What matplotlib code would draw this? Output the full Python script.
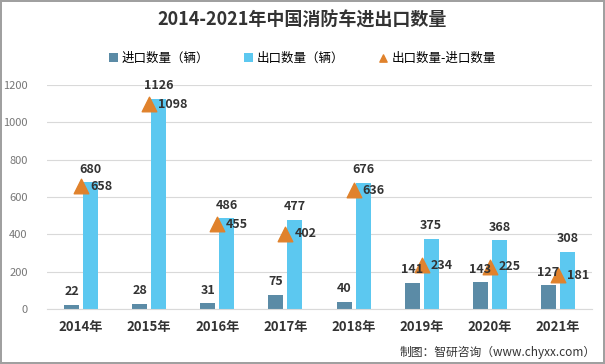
import matplotlib.pyplot as plt
import numpy as np

plt.rcParams['font.family'] = ['Noto Sans CJK SC', 'DejaVu Sans']

years = ['2014年', '2015年', '2016年', '2017年', '2018年', '2019年', '2020年', '2021年']
imports = [22, 28, 31, 75, 40, 141, 143, 127]
exports = [680, 1126, 486, 477, 676, 375, 368, 308]
diff = [658, 1098, 455, 402, 636, 234, 225, 181]

c_imp = '#5B8BA6'
c_exp = '#5CC8F0'
c_diff = '#E0822C'

fig = plt.figure(figsize=(6.05, 3.64), dpi=100)
fig.patch.set_edgecolor('#A0A0A0')
fig.patch.set_linewidth(1.5)
ax = fig.add_axes([47 / 605, 1 - 309 / 364, 545 / 605, 224 / 364])

x = np.arange(len(years))
w = 0.22
off = 0.14
b1 = ax.bar(x - off, imports, w, color=c_imp, label='进口数量（辆）', zorder=2)
b2 = ax.bar(x + off, exports, w, color=c_exp, label='出口数量（辆）', zorder=2)
sc = ax.scatter(x, diff, marker='^', s=110, color=c_diff, label='出口数量-进口数量', zorder=3)

for i in range(len(years)):
    ax.text(x[i] - off, imports[i] + 35, str(imports[i]), ha='center', va='bottom',
            fontsize=9, color='#333333', fontweight='bold')
    ax.text(x[i] + off, exports[i] + 35, str(exports[i]), ha='center', va='bottom',
            fontsize=9, color='#333333', fontweight='bold')
    ax.text(x[i] + 0.13, diff[i], str(diff[i]), ha='left', va='center',
            fontsize=9, color='#333333', fontweight='bold')

ax.set_xlim(-0.5, len(years) - 0.5)
ax.set_ylim(0, 1200)
ax.set_yticks(range(0, 1201, 200))
ax.set_xticks(x)
ax.set_xticklabels(years, fontsize=9.5, fontweight='bold', color='#333333')
ax.tick_params(axis='y', labelsize=8, colors='#777777', length=0, pad=14)
ax.tick_params(axis='x', length=0, pad=8)
ax.grid(axis='y', color='#D9D9D9', linewidth=0.8, zorder=0)
for s in ['top', 'right', 'left']:
    ax.spines[s].set_visible(False)
ax.spines['bottom'].set_color('#D9D9D9')

fig.text(0.5, 1 - 20 / 364, '2014-2021年中国消防车进出口数量', ha='center', va='center',
         fontsize=13, fontweight='bold', color='#333333')
fig.legend(handles=[b1, b2, sc], loc='center', bbox_to_anchor=(0.5, 1 - 58 / 364), ncol=3,
           frameon=False, fontsize=9, handlelength=0.7, handleheight=0.7, handletextpad=0.3,
           columnspacing=2.8, markerscale=0.5)
fig.text(0.985, 1 - 352 / 364, '制图：智研咨询（www.chyxx.com）', ha='right', va='center',
         fontsize=8.5, color='#333333')

fig.savefig('out.png', dpi=100, edgecolor=fig.get_edgecolor())
